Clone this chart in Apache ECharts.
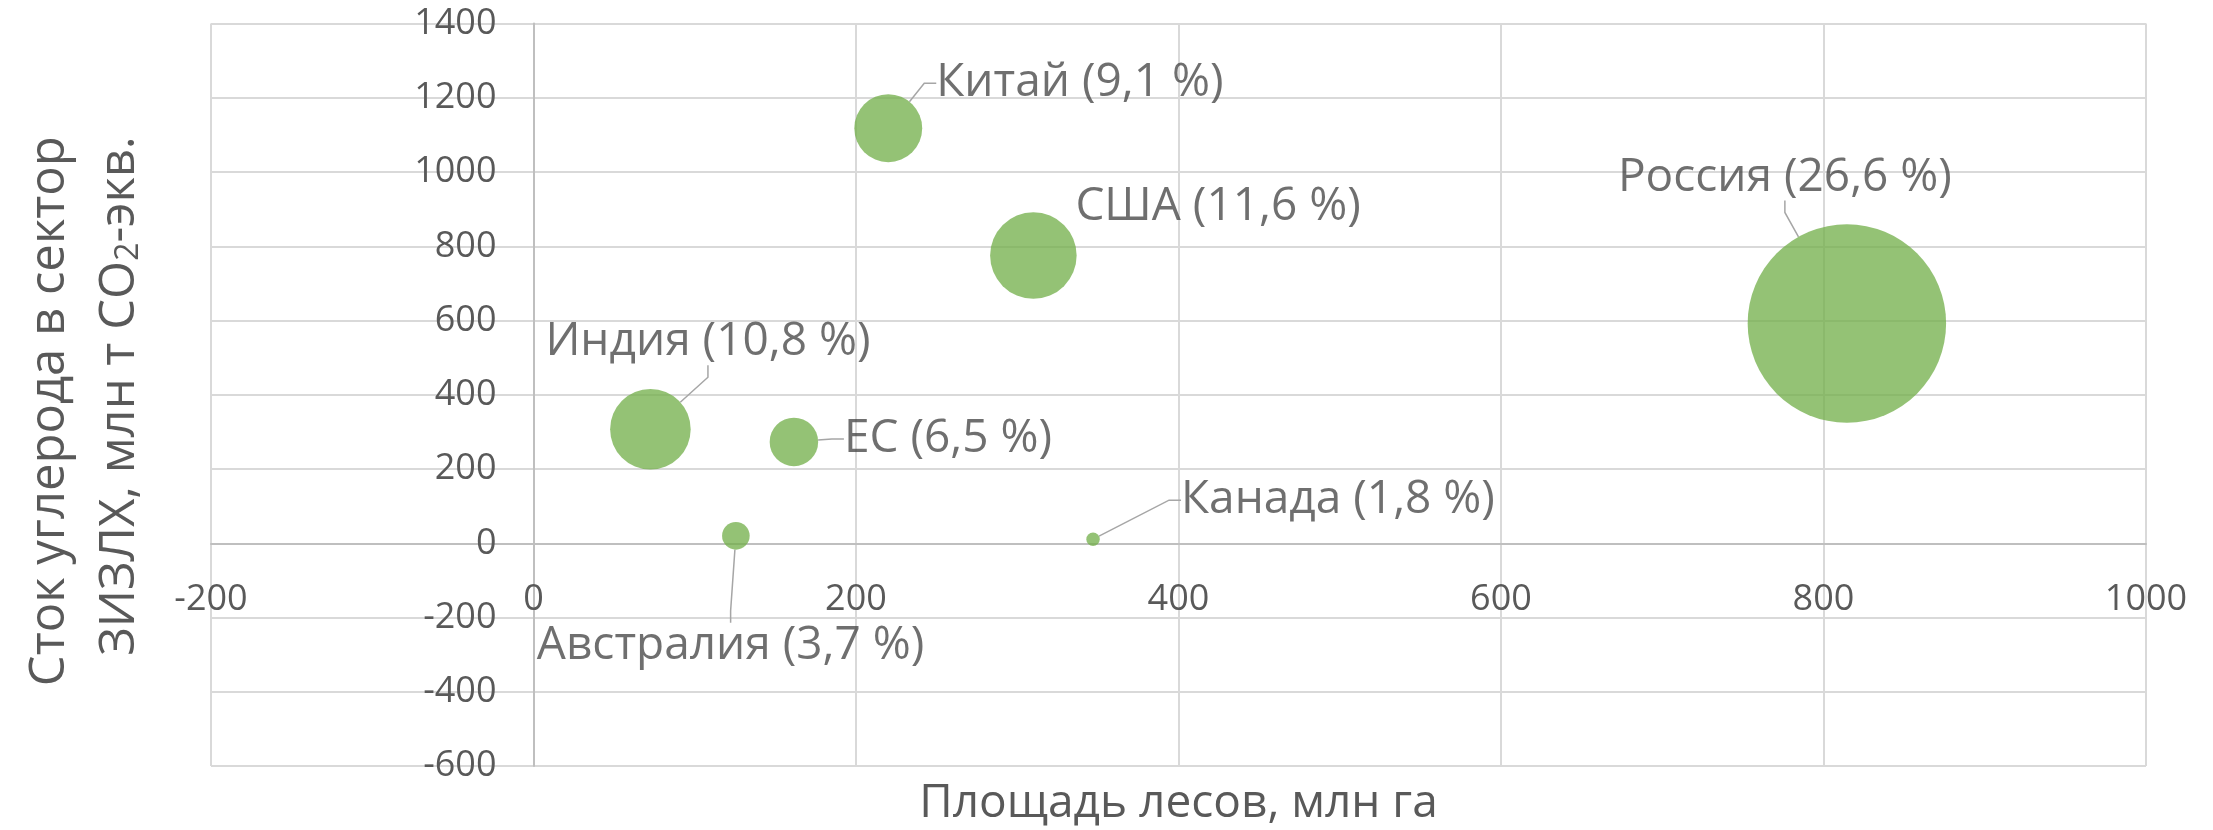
<!DOCTYPE html>
<html>
<head>
<meta charset="utf-8">
<script src="https://cdn.jsdelivr.net/npm/echarts@6/dist/echarts.min.js"></script>
<style>
  html, body { margin: 0; padding: 0; background: #ffffff; }
  #chart { width: 2213px; height: 830px; }
</style>
</head>
<body>
<div id="chart"></div>
<script>
// ---- data ----
const countries = ['Россия', 'США', 'Индия', 'Китай', 'ЕС', 'Австралия', 'Канада'];
const forestArea = [814.5, 310, 72.5, 220, 161.5, 125.5, 347];      // млн га (x)
const carbonSink = [592, 775, 307, 1118, 273, 20, 11];               // млн т CO2-экв. (y)
const sharePct = [26.6, 11.6, 10.8, 9.1, 6.5, 3.7, 1.8];            // % (bubble size, label)
const xTicks = { min: -200, max: 1000, interval: 200 };
const yTicks = { min: -600, max: 1400, interval: 200 };

// ---- presentation settings (not data) ----
const FONT = '"Open Sans", "Noto Sans", sans-serif';
const W = 2213, H = 830;
const GRID = { left: 211, right: 67, top: 23.5, bottom: 64 };
const plotW = W - GRID.left - GRID.right;
const plotH = H - GRID.top - GRID.bottom;
// axes cross at zero (as in the reference): shift them inward from the grid edge
const xAxisOffset = -plotH * (0 - yTicks.min) / (yTicks.max - yTicks.min);
const yAxisOffset = -plotW * (0 - xTicks.min) / (xTicks.max - xTicks.min);

const pxPerPct = 7.46;
const labelOffsets = {           // label left edge / vertical middle relative to bubble centre
  'Россия': [-229, -146],
  'США': [42, -49],
  'Индия': [-105, -87],
  'Китай': [48, -45],
  'ЕС': [50, -3],
  'Австралия': [-199, 110],
  'Канада': [88, -39]
};
const noLeader = ['США'];

const seriesData = countries.map((name, i) => {
  const item = { name: name, value: [forestArea[i], carbonSink[i], sharePct[i]] };
  if (noLeader.indexOf(name) >= 0) item.labelLine = { show: false };
  return item;
});

const chart = echarts.init(document.getElementById('chart'), null, { renderer: 'canvas' });
chart.setOption({
  animation: false,
  backgroundColor: '#ffffff',
  grid: { left: GRID.left, right: GRID.right, top: GRID.top, bottom: GRID.bottom,
          containLabel: false, outerBoundsMode: 'none' },
  xAxis: {
    type: 'value',
    min: xTicks.min, max: xTicks.max, interval: xTicks.interval,
    offset: xAxisOffset,
    name: 'Площадь лесов, млн га',
    nameLocation: 'middle',
    nameGap: 238,
    nameMoveOverlap: false,
    nameTextStyle: { fontFamily: FONT, fontSize: 46, color: '#595959' },
    axisLine: { show: true, onZero: false, lineStyle: { color: '#bfbfbf', width: 2 } },
    axisTick: { show: false },
    axisLabel: { fontFamily: FONT, fontSize: 36, color: '#595959', margin: 38,
                 formatter: function (v) { return String(v); } },
    splitLine: { show: true, lineStyle: { color: '#d9d9d9', width: 2 } }
  },
  yAxis: {
    type: 'value',
    min: yTicks.min, max: yTicks.max, interval: yTicks.interval,
    offset: yAxisOffset,
    name: '{t|Сток углерода в сектор}\n{t|ЗИЗЛХ, млн т CO}{s|2}{t|-экв.}',
    nameLocation: 'middle',
    nameGap: 378,
    nameRotate: 90,
    nameMoveOverlap: false,
    nameTextStyle: {
      color: '#595959',
      padding: [0, 33, 0, 0],
      rich: {
        t: { fontFamily: FONT, fontSize: 49, color: '#595959', lineHeight: 70, align: 'right' },
        s: { fontFamily: FONT, fontSize: 32, color: '#595959', lineHeight: 70, align: 'right',
             padding: [16, 0, 0, 0] }
      }
    },
    axisLine: { show: true, onZero: false, lineStyle: { color: '#bfbfbf', width: 2 } },
    axisTick: { show: false },
    axisLabel: { fontFamily: FONT, fontSize: 36, color: '#595959', margin: 37,
                 formatter: function (v) { return String(v); } },
    splitLine: { show: true, lineStyle: { color: '#d9d9d9', width: 2 } }
  },
  series: [{
    type: 'scatter',
    data: seriesData,
    symbol: 'circle',
    symbolSize: function (val) { return val[2] * pxPerPct; },
    itemStyle: { color: '#70AD47', opacity: 0.75 },
    emphasis: { disabled: true },
    label: {
      show: true,
      fontFamily: FONT,
      fontSize: 46,
      color: '#3f3f3f',
      formatter: function (p) {
        return p.name + ' (' + String(p.value[2]).replace('.', ',') + ' %)';
      }
    },
    labelLine: { show: true, length2: 12, lineStyle: { color: '#a6a6a6', width: 1.5 } },
    labelLayout: function (params) {
      const o = labelOffsets[countries[params.dataIndex]];
      const cx = params.rect.x + params.rect.width / 2;
      const cy = params.rect.y + params.rect.height / 2;
      return { x: cx + o[0], y: cy + o[1], align: 'left', verticalAlign: 'middle' };
    }
  }]
});
</script>
</body>
</html>
